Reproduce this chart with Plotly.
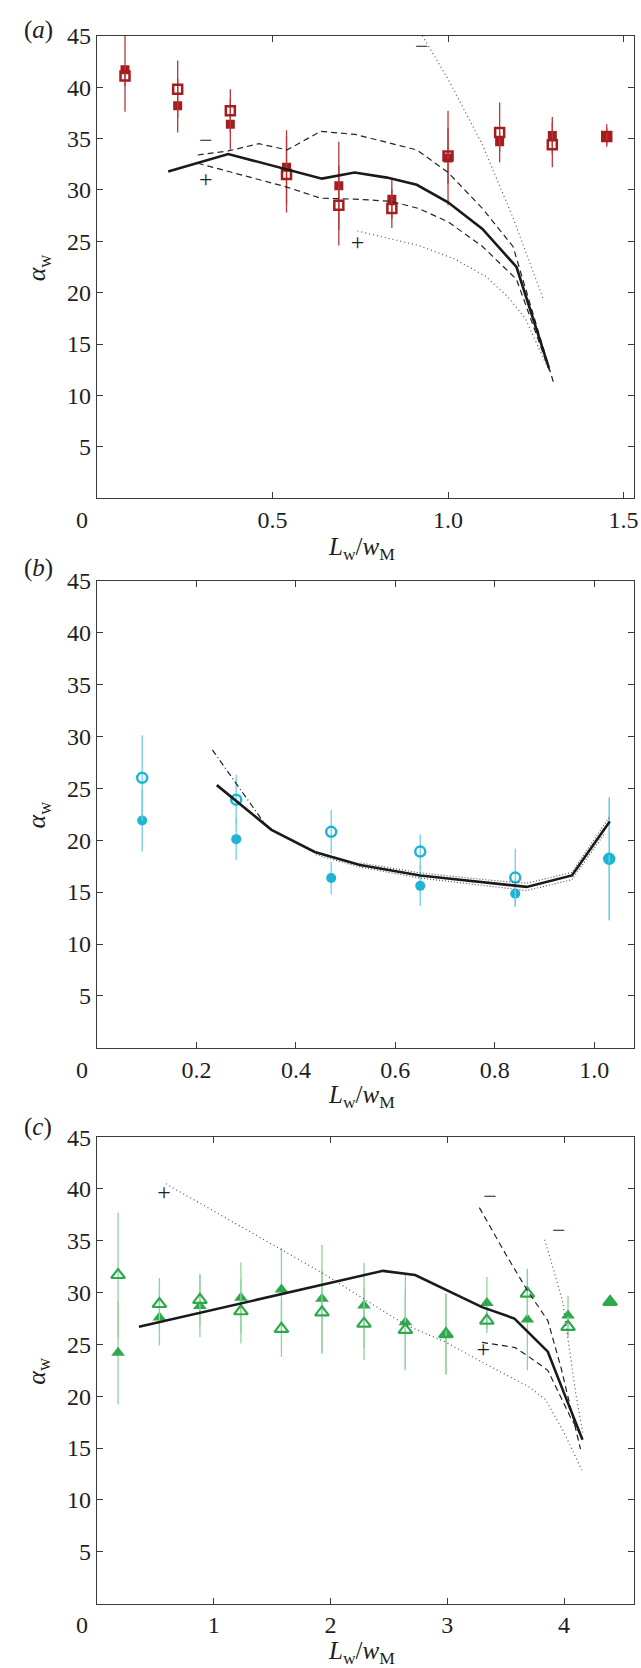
import plotly.graph_objects as go

# ---------------- Panel (a) data ----------------
a_x = [0.080, 0.230, 0.380, 0.540, 0.689, 0.840, 1.000, 1.147, 1.297, 1.452]
a_filled_y = [41.7, 38.2, 36.4, 32.2, 30.4, 29.1, 33.1, 34.7, 35.3, 35.3]
a_filled_err = [4.1, 2.6, 2.5, 3.6, 4.3, 1.9, 4.6, 1.0, 1.8, 1.1]
a_open_y = [41.1, 39.8, 37.7, 31.5, 28.5, 28.2, 33.3, 35.6, 34.4, 35.2]
a_open_err = [1.0, 2.8, 2.1, 3.7, 3.9, 1.9, 2.7, 2.9, 2.2, 0.8]

a_solid_x = [0.203, 0.374, 0.641, 0.734, 0.826, 0.911, 1.000, 1.098, 1.195, 1.287]
a_solid_y = [31.8, 33.5, 31.1, 31.7, 31.2, 30.5, 28.8, 26.2, 22.5, 12.7]
a_dash_up_x = [0.287, 0.374, 0.461, 0.542, 0.637, 0.736, 0.911, 1.000, 1.098, 1.185, 1.300]
a_dash_up_y = [33.4, 33.8, 34.5, 33.9, 35.7, 35.4, 33.9, 31.7, 28.2, 24.5, 11.3]
a_dash_lo_x = [0.287, 0.374, 0.539, 0.637, 0.736, 0.837, 0.916, 1.000, 1.098, 1.195, 1.290]
a_dash_lo_y = [32.6, 31.8, 30.3, 29.2, 29.1, 28.9, 28.2, 26.9, 24.5, 21.3, 12.3]
a_dot_up_x = [0.927, 1.000, 1.098, 1.185, 1.270]
a_dot_up_y = [45.0, 40.8, 34.4, 27.3, 19.5]
a_dot_lo_x = [0.742, 0.826, 0.916, 1.017, 1.107, 1.170, 1.220, 1.280]
a_dot_lo_y = [26.0, 25.3, 24.6, 23.3, 21.6, 19.6, 17.5, 13.0]
a_sign_x = [0.310, 0.310, 0.925, 0.742]
a_sign_y = [34.7, 30.9, 43.8, 24.7]
a_sign_t = ["\u2212", "+", "\u2212", "+"]

# ---------------- Panel (b) data ----------------
b_x = [0.091, 0.280, 0.471, 0.650, 0.841, 1.030]
b_open_y = [26.0, 23.9, 20.8, 18.9, 16.4, 18.2]
b_open_err = [4.1, 2.4, 2.1, 1.65, 2.8, 5.9]
b_filled_y = [21.9, 20.1, 16.35, 15.6, 14.85, 18.2]
b_filled_err = [3.0, 2.0, 1.55, 1.95, 1.2, 5.9]

b_solid_x = [0.241, 0.351, 0.438, 0.529, 0.650, 0.797, 0.864, 0.955, 1.031]
b_solid_y = [25.3, 21.0, 18.86, 17.6, 16.6, 15.8, 15.5, 16.6, 21.8]
b_dot_lo_x = [0.440, 0.530, 0.650, 0.800, 0.864, 0.955, 1.020]
b_dot_lo_y = [18.6, 17.4, 16.35, 15.5, 15.15, 16.2, 20.6]
b_dot_up_x = [0.530, 0.650, 0.800, 0.864, 0.955, 1.030]
b_dot_up_y = [17.8, 16.85, 16.1, 15.85, 16.9, 22.2]
b_dashdot_x = [0.232, 0.340]
b_dashdot_y = [28.7, 21.4]

# ---------------- Panel (c) data ----------------
c_x = [0.181, 0.535, 0.882, 1.233, 1.580, 1.927, 2.287, 2.641, 2.989, 3.339, 3.686, 4.034, 4.394]
c_open_y = [31.7, 28.9, 29.3, 28.2, 26.5, 28.1, 27.0, 26.4, 26.0, 27.3, 29.9, 26.7, 29.1]
c_open_err = [6.0, 2.5, 2.5, 3.1, 2.7, 4.0, 3.5, 3.9, 3.9, 1.2, 2.2, 1.0, 0.0]
c_filled_y = [24.2, 27.6, 28.7, 29.5, 30.3, 29.4, 28.75, 27.15, 26.0, 29.0, 27.4, 27.8, 29.1]
c_filled_err = [5.0, 2.7, 3.0, 3.4, 4.0, 5.2, 4.1, 4.6, 3.9, 2.5, 4.9, 1.9, 0.0]

c_solid_x = [0.360, 2.449, 2.725, 3.298, 3.575, 3.861, 4.000, 4.158]
c_solid_y = [26.7, 32.1, 31.7, 28.6, 27.5, 24.3, 20.3, 15.8]
c_dash_up_x = [3.275, 3.501, 3.686, 3.861, 3.973, 4.141]
c_dash_up_y = [38.2, 33.7, 30.2, 27.3, 22.8, 14.9]
c_dash_lo_x = [3.298, 3.582, 3.700, 3.861, 4.050, 4.155]
c_dash_lo_y = [25.2, 24.7, 23.8, 22.5, 18.1, 16.0]
c_dot_l_x = [0.590, 1.580, 1.930, 2.640, 2.990, 3.330, 3.700, 3.840, 4.000, 4.160]
c_dot_l_y = [40.5, 34.2, 31.9, 26.9, 25.2, 23.1, 20.9, 19.7, 16.5, 12.7]
c_dot_r_x = [3.835, 3.987, 4.100, 4.160]
c_dot_r_y = [35.1, 29.2, 20.3, 16.5]
c_sign_x = [0.575, 3.366, 3.955, 3.308]
c_sign_y = [39.55, 39.1, 35.8, 24.4]
c_sign_t = ["+", "\u2212", "\u2212", "+"]

NB = "\u00a0"
y_ticks = [5, 10, 15, 20, 25, 30, 35, 40, 45]
a_xticks = [0, 0.5, 1.0, 1.5]
a_xtext = ["0" + NB * 5, "0.5", "1.0", "1.5"]
b_xticks = [0, 0.2, 0.4, 0.6, 0.8, 1.0]
b_xtext = ["0" + NB * 5, "0.2", "0.4", "0.6", "0.8", "1.0"]
c_xticks = [0, 1, 2, 3, 4]
c_xtext = ["0" + NB * 5, "1", "2", "3", "4"]

RED = "#a51d1f"
RED_E = "#b8393b"
CYAN = "#1fb4d4"
CYAN_E = "#6fcfe4"
GREEN = "#2eaa4c"
GREEN_E = "#8fd3a0"
FONT = "Liberation Serif"
TXT = "#1e1e1e"

fig = go.Figure()


def markers(x, y, err, sym, size, color, ecolor, lw, xa, ya):
    fig.add_trace(go.Scatter(
        x=x, y=y, mode="markers", xaxis=xa, yaxis=ya, showlegend=False,
        marker=dict(symbol=sym, size=size, color=color, line=dict(color=color, width=lw)),
        error_y=dict(type="data", array=err, visible=True, color=ecolor, thickness=1.3, width=0)))


def line(x, y, dash, width, color, xa, ya):
    fig.add_trace(go.Scatter(
        x=x, y=y, mode="lines", xaxis=xa, yaxis=ya, showlegend=False,
        line=dict(color=color, width=width, dash=dash)))


def signs(x, y, t, xa, ya):
    fig.add_trace(go.Scatter(
        x=x, y=y, mode="text", text=t, xaxis=xa, yaxis=ya, showlegend=False,
        textfont=dict(family=FONT, size=24, color=TXT)))


# Panel (a)
markers(a_x, a_filled_y, a_filled_err, "square", 9, RED, RED_E, 0, "x", "y")
markers(a_x, a_open_y, a_open_err, "square-open", 9, RED, RED_E, 2.5, "x", "y")
line(a_dot_up_x, a_dot_up_y, "1px,3px", 1.2, "#555", "x", "y")
line(a_dot_lo_x, a_dot_lo_y, "1px,3px", 1.2, "#555", "x", "y")
line(a_dash_up_x, a_dash_up_y, "6px,4px", 1.2, "#222", "x", "y")
line(a_dash_lo_x, a_dash_lo_y, "6px,4px", 1.2, "#222", "x", "y")
line(a_solid_x, a_solid_y, "solid", 2.6, "#1a1a1a", "x", "y")
signs(a_sign_x, a_sign_y, a_sign_t, "x", "y")

# Panel (b)
markers(b_x, b_filled_y, b_filled_err, "circle", 10, CYAN, CYAN_E, 0, "x2", "y2")
markers(b_x, b_open_y, b_open_err, "circle-open", 10, CYAN, CYAN_E, 2.5, "x2", "y2")
line(b_dot_lo_x, b_dot_lo_y, "1px,2px", 1.2, "#555", "x2", "y2")
line(b_dot_up_x, b_dot_up_y, "1px,2px", 1.2, "#555", "x2", "y2")
line(b_dashdot_x, b_dashdot_y, "6px,3px,1px,3px", 1.2, "#222", "x2", "y2")
line(b_solid_x, b_solid_y, "solid", 2.6, "#1a1a1a", "x2", "y2")

# Panel (c)
markers(c_x, c_filled_y, c_filled_err, "triangle-up", 12, GREEN, GREEN_E, 0, "x3", "y3")
markers(c_x, c_open_y, c_open_err, "triangle-up-open", 12, GREEN, GREEN_E, 2.2, "x3", "y3")
line(c_dot_l_x, c_dot_l_y, "1px,3px", 1.2, "#555", "x3", "y3")
line(c_dot_r_x, c_dot_r_y, "1px,3px", 1.2, "#555", "x3", "y3")
line(c_dash_up_x, c_dash_up_y, "6px,4px", 1.2, "#222", "x3", "y3")
line(c_dash_lo_x, c_dash_lo_y, "6px,4px", 1.2, "#222", "x3", "y3")
line(c_solid_x, c_solid_y, "solid", 2.6, "#1a1a1a", "x3", "y3")
signs(c_sign_x, c_sign_y, c_sign_t, "x3", "y3")

H = 1668.0
W = 641.0
xdom = [79 / W, 638 / W]
doms = {
    "a": [1 - 489 / H, 1 - 23 / H],
    "b": [1 - 1043 / H, 1 - 572 / H],
    "c": [1 - 1603 / H, 1 - 1133 / H],
}

axis_common = dict(showline=True, linecolor="#3a3a3a", linewidth=1, mirror="ticks",
                   ticks="inside", ticklen=6, tickcolor="#3a3a3a", showgrid=False,
                   zeroline=False, ticklabeloverflow="allow",
                   tickfont=dict(family=FONT, size=24, color=TXT))


def xax(rng, tv, tt, anchor):
    d = dict(axis_common)
    d.update(range=rng, tickvals=tv, ticktext=tt, domain=xdom, anchor=anchor)
    return d


def yax(dom, anchor):
    d = dict(axis_common)
    d.update(range=[0, 45], tickvals=y_ticks, domain=dom, anchor=anchor)
    return d


fig.update_layout(
    width=641, height=1668, margin=dict(l=0, r=0, t=0, b=0),
    paper_bgcolor="white", plot_bgcolor="white",
    xaxis=xax([0, 1.53], a_xticks, a_xtext, "y"),
    yaxis=yax(doms["a"], "x"),
    xaxis2=xax([0, 1.08], b_xticks, b_xtext, "y2"),
    yaxis2=yax(doms["b"], "x2"),
    xaxis3=xax([0, 4.60], c_xticks, c_xtext, "y3"),
    yaxis3=yax(doms["c"], "x3"),
)

xt = "<i>L</i><sub>w</sub>/<i>w</i><sub>M</sub>"
yt = "<i>\u03b1</i><sub>w</sub>"
ann = []
for lab, ly, xty, dom in [("a", 17, 540, doms["a"]), ("b", 559, 1092, doms["b"]), ("c", 1123, 1652, doms["c"])]:
    ann.append(dict(text="(<i>%s</i>)" % lab, x=18 / W, y=1 - ly / H, xref="paper", yref="paper",
                    xanchor="center", yanchor="middle",
                    showarrow=False, font=dict(family=FONT, size=25, color=TXT)))
    ann.append(dict(text=xt, x=354 / W, y=1 - xty / H, xref="paper", yref="paper",
                    xanchor="center", yanchor="middle",
                    showarrow=False, font=dict(family=FONT, size=25, color=TXT)))
    ann.append(dict(text=yt, x=18 / W, y=(dom[0] + dom[1]) / 2, xref="paper", yref="paper",
                    xanchor="center", yanchor="middle",
                    showarrow=False, textangle=-90, font=dict(family=FONT, size=26, color=TXT)))
fig.update_layout(annotations=ann)

fig.write_html("out.html", config={"displayModeBar": False},
               post_script="document.body.style.margin='0';document.body.style.overflow='hidden';")
